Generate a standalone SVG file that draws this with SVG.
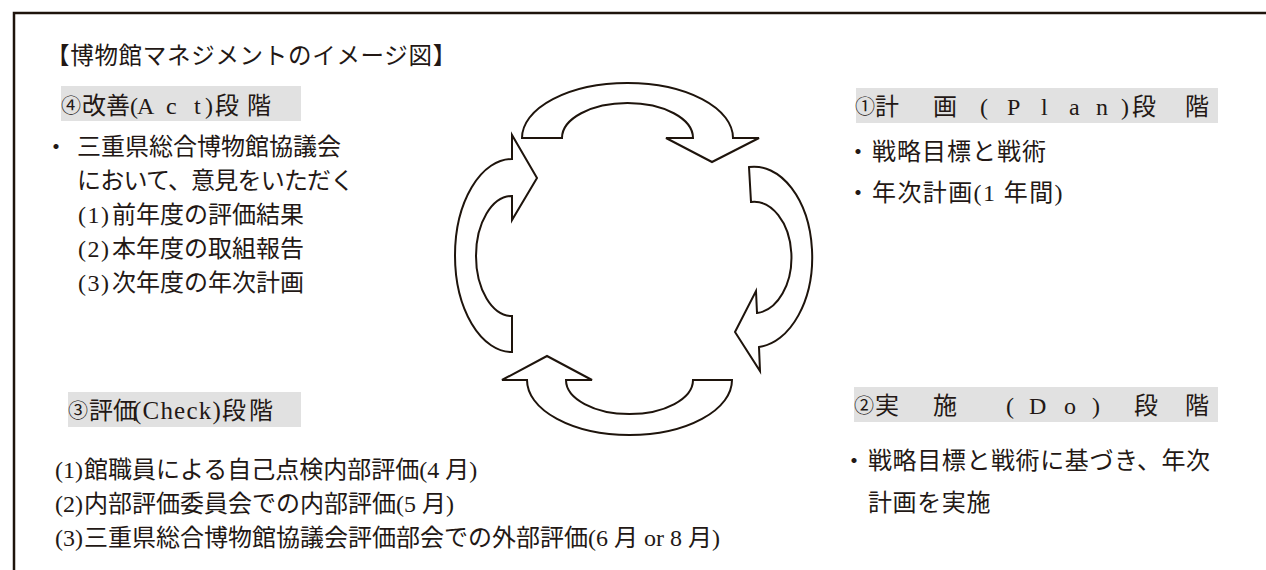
<svg xmlns="http://www.w3.org/2000/svg" width="1266" height="570" viewBox="0 0 1266 570">
<style>
.t{font-family:"Liberation Serif","Noto Sans CJK JP",serif;font-size:24px;fill:#231815}
.ti{font-size:23.5px;letter-spacing:0.7px}
.cd{font-size:20px}
.hd{fill:#e1e1e1}
.ar{fill:#ffffff;stroke:#1e140c;stroke-width:2;stroke-linejoin:miter}
</style>
<rect width="1266" height="570" fill="#ffffff"/>
<g id="frame"><path d="M1268,13 H14 V572" fill="none" stroke="#1e140c" stroke-width="2.5"/></g>
<g id="title"><text class="t ti" x="46" y="64">【博物館マネジメントのイメージ図】</text></g>
<g id="act">
<rect class="hd" x="61" y="86" width="240" height="35"/>
<text class="t" y="114"><tspan class="cd" x="61" dy="-1">④</tspan><tspan x="82" dy="1">改善</tspan><tspan x="130">(</tspan><tspan x="137">A</tspan><tspan x="166">c</tspan><tspan x="194">t</tspan><tspan x="205">)</tspan><tspan x="215">段</tspan><tspan x="247">階</tspan></text>
<text class="t" y="155"><tspan x="44">・</tspan><tspan x="77">三重県総合博物館協議会</tspan></text>
<text class="t" x="77" y="189" letter-spacing="-0.8">において、意見をいただく</text>
<text class="t" y="223"><tspan x="78" letter-spacing="1.5">(1)</tspan><tspan x="112">前年度の評価結果</tspan></text>
<text class="t" y="257"><tspan x="78" letter-spacing="1.5">(2)</tspan><tspan x="112">本年度の取組報告</tspan></text>
<text class="t" y="291"><tspan x="78" letter-spacing="1.5">(3)</tspan><tspan x="112">次年度の年次計画</tspan></text>
</g>
<g id="plan">
<rect class="hd" x="856" y="88" width="362" height="35"/>
<text class="t" y="115"><tspan class="cd" x="855" dy="-1">①</tspan><tspan x="875" dy="1">計</tspan><tspan x="933">画</tspan><tspan x="980">(</tspan><tspan x="1007">P</tspan><tspan x="1041">l</tspan><tspan x="1069">a</tspan><tspan x="1096">n</tspan><tspan x="1121">)</tspan><tspan x="1132">段</tspan><tspan x="1185">階</tspan></text>
<text class="t" y="160"><tspan x="846">・</tspan><tspan x="872" letter-spacing="1">戦略目標と戦術</tspan></text>
<text class="t" y="201"><tspan x="846">・</tspan><tspan x="872" letter-spacing="1.4">年次計画(1 年間)</tspan></text>
</g>
<g id="do">
<rect class="hd" x="854" y="387" width="364" height="35"/>
<text class="t" y="414"><tspan class="cd" x="854" dy="-1">②</tspan><tspan x="875" dy="1">実</tspan><tspan x="933">施</tspan><tspan x="1006">(</tspan><tspan x="1029">D</tspan><tspan x="1064">o</tspan><tspan x="1092">)</tspan><tspan x="1134">段</tspan><tspan x="1185">階</tspan></text>
<text class="t" y="469"><tspan x="842">・</tspan><tspan x="868" letter-spacing="0.6">戦略目標と戦術に基づき、年次</tspan></text>
<text class="t" x="868" y="511" letter-spacing="0.6">計画を実施</text>
</g>
<g id="check">
<rect class="hd" x="68" y="392" width="233" height="35"/>
<text class="t" y="419"><tspan class="cd" x="68" dy="-1">③</tspan><tspan x="89" dy="1">評価</tspan><tspan x="133" font-size="25" letter-spacing="1.2">(Check)</tspan><tspan x="222">段</tspan><tspan x="249">階</tspan></text>
<text class="t" y="478"><tspan x="55">(1)</tspan><tspan x="84">館職員による自己点検内部評価(4 月)</tspan></text>
<text class="t" y="512"><tspan x="55">(2)</tspan><tspan x="84">内部評価委員会での内部評価(5 月)</tspan></text>
<text class="t" y="546"><tspan x="55">(3)</tspan><tspan x="84">三重県総合博物館協議会評価部会での外部評価(6 月 or 8 月)</tspan></text>
</g>
<g id="connectors">
<path id="arrow-top" class="ar" d="M522,138 A105.5,55 0 0 1 733,138 L759,138 L712,162 L666,138 L693,138 A65.5,35 0 0 0 562,138 Z"/>
<path id="arrow-right" class="ar" d="M749,167 A58,90 0 0 1 759,347 L760,371 L735,332 L756,291 L757,313 A37,55 0 0 0 751,202 Z"/>
<path id="arrow-bottom" class="ar" d="M732,380 A102.5,55 0 0 1 527,380 L502,380 L547,356 L592,380 L566,380 A63.5,34 0 0 0 693,380 Z"/>
<path id="arrow-left" class="ar" d="M512,352 A57,96.5 0 0 1 512,159 L512,135 L537,178 L512,220 L512,196 A36,60 0 0 0 512,316 Z"/>
</g>
</svg>
